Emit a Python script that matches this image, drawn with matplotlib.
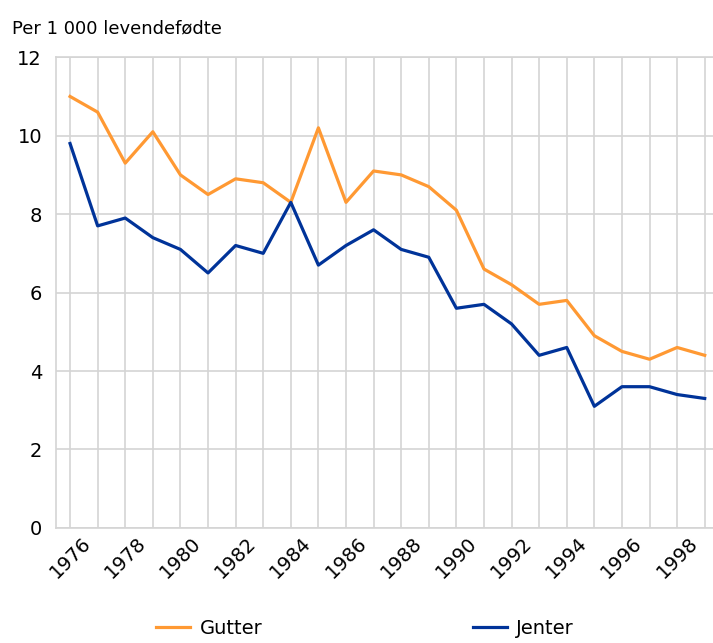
import matplotlib
matplotlib.use("Agg")
import matplotlib.pyplot as plt

years = list(range(1976, 2000))
gutter = [11.0, 10.6, 9.3, 10.1, 9.0, 8.5, 8.9, 8.8, 8.3, 10.2, 8.3, 9.1,
          9.0, 8.7, 8.1, 6.6, 6.2, 5.7, 5.8, 4.9, 4.5, 4.3, 4.6, 4.4]
jenter = [9.8, 7.7, 7.9, 7.4, 7.1, 6.5, 7.2, 7.0, 8.3, 6.7, 7.2, 7.6,
          7.1, 6.9, 5.6, 5.7, 5.2, 4.4, 4.6, 3.1, 3.6, 3.6, 3.4, 3.3]
tick_years = list(range(1976, 2000, 2))
yticks = [0, 2, 4, 6, 8, 10, 12]

plt.rcParams['font.family'] = ['DejaVu Sans']

fig = plt.figure(figsize=(7.13, 6.43), dpi=100)
ax = fig.add_axes([0.0785, 0.179, 0.9215, 0.732])

grid_c = '#d4d4d4'
ax.plot(years, gutter, color='#ff9933', lw=2.3, label='Gutter', zorder=3)
ax.plot(years, jenter, color='#003399', lw=2.3, label='Jenter', zorder=3)

ax.set_xlim(1975.49, 1999.3)
ax.set_ylim(0, 12)
ax.set_yticks(yticks)
ax.set_xticks(years, minor=True)
ax.set_xticks(tick_years)
ax.set_xticklabels([str(y) for y in tick_years], rotation=45, ha='center',
                   fontsize=14)
ax.tick_params(axis='y', labelsize=14, length=0, pad=10)
ax.tick_params(axis='x', which='both', length=0, pad=4)

ax.grid(True, axis='y', color=grid_c, lw=1.2)
ax.grid(True, axis='x', which='both', color=grid_c, lw=1.2)
for s in ['top', 'right']:
    ax.spines[s].set_visible(False)
for s in ['left', 'bottom']:
    ax.spines[s].set_color(grid_c)
    ax.spines[s].set_linewidth(1.2)
ax.axhline(12, color=grid_c, lw=1.2, clip_on=False)

fig.text(0.017, 0.955, 'Per 1 000 levendefødte', fontsize=13, ha='left', va='center')

fig.legend(loc='center', bbox_to_anchor=(0.512, 0.023), ncol=2, frameon=False,
           fontsize=14, columnspacing=10.8, handlelength=1.75, handletextpad=0.5,
           borderpad=0, borderaxespad=0)

fig.savefig('out.png', dpi=100)
